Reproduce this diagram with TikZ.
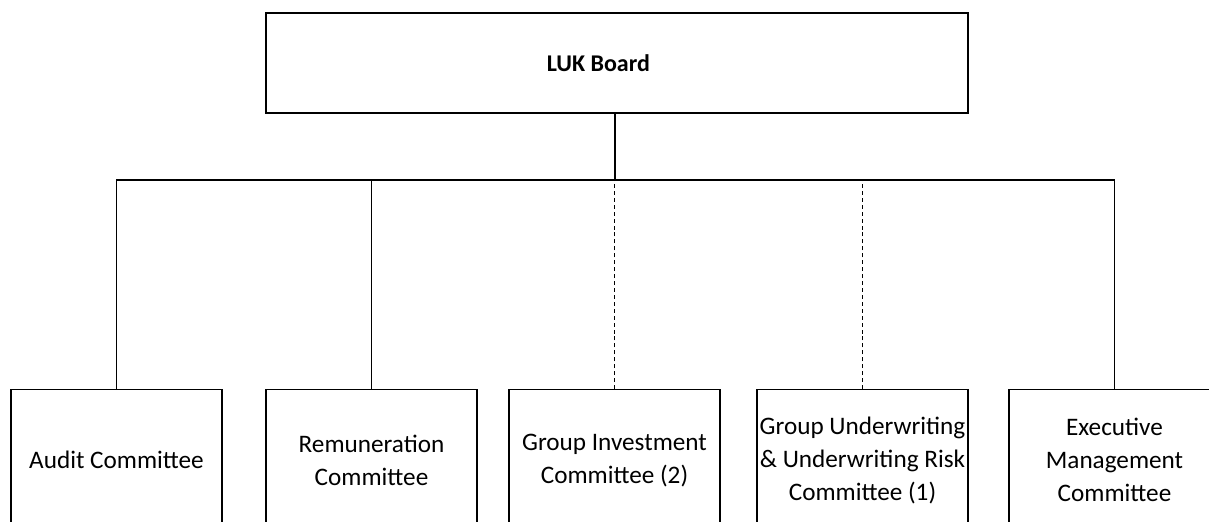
\documentclass[tikz,border=0pt]{standalone}
\usepackage{fontspec}
\setmainfont{Carlito}
\begin{document}
\begin{tikzpicture}[x=0.75pt,y=-0.75pt,
  box/.style={draw, line width=0.9pt, inner sep=0pt, align=center,
    font=\fontsize{18.9}{24.75}\selectfont},
  sub/.style={box, minimum width=211*0.75pt, minimum height=141*0.75pt, anchor=north},
  conn/.style={line width=0.9pt},
  dconn/.style={line width=0.9pt, dash pattern=on 3pt off 2.2pt}]
\useasboundingbox (0,0) rectangle (1209,521);
\clip (0,0) rectangle (1209,521);
\node[box, minimum width=702*0.75pt, minimum height=100*0.75pt, font=\fontsize{18}{24}\selectfont\bfseries] (board) at (617,63) {LUK Board\hspace*{28pt}};
\node[sub] (audit) at (116.5,389) {Audit Committee};
\node[sub] (rem) at (371.5,389) {Remuneration\\Committee};
\node[sub] (inv) at (614.5,389) {Group Investment\\Committee (2)};
\node[sub] (gu) at (862.5,389) {Group Underwriting\\\& Underwriting Risk\\Committee (1)};
\node[sub] (exec) at (1114.5,389) {Executive\\Management\\Committee};
\coordinate (bus) at (615,180);
\draw[conn] (board.south -| bus) -- (bus);
\draw[conn] (audit.north) -- (audit.north |- bus) -- (exec.north |- bus) -- (exec.north);
\draw[conn] (rem.north) -- (rem.north |- bus);
\draw[dconn] (inv.north) -- (inv.north |- bus);
\draw[dconn] (gu.north) -- (gu.north |- bus);
\end{tikzpicture}
\end{document}
